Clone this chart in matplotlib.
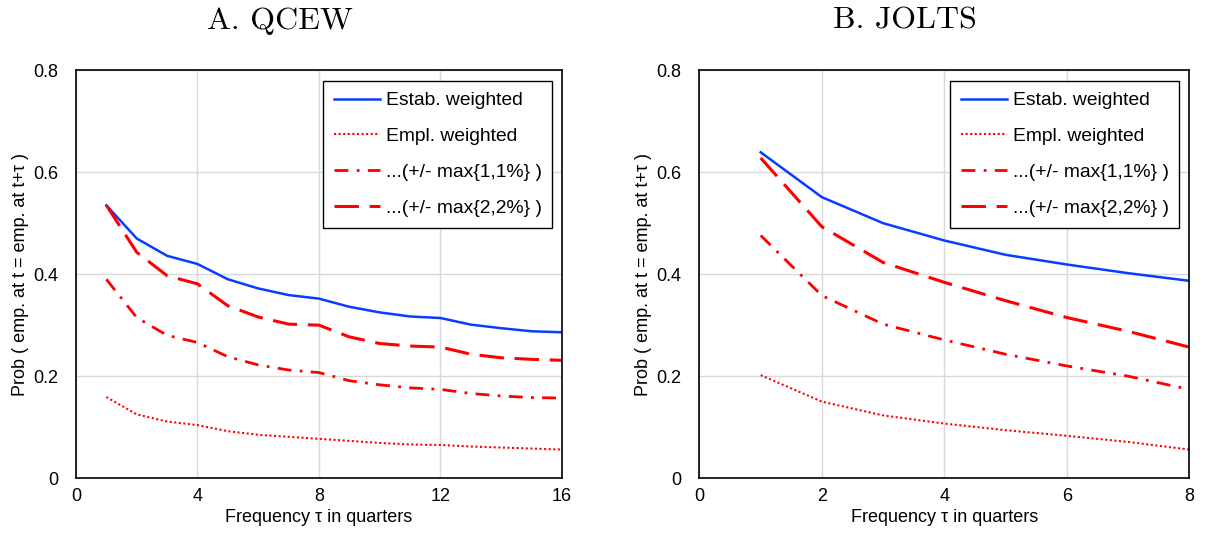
import matplotlib
matplotlib.use("Agg")
import matplotlib.pyplot as plt
import numpy as np

# --- data ---
q_tau = np.arange(1, 17)
q_estab = [0.535, 0.470, 0.436, 0.420, 0.390, 0.372, 0.359, 0.352,
           0.336, 0.325, 0.317, 0.314, 0.301, 0.294, 0.288, 0.286]
q_empl = [0.159, 0.125, 0.111, 0.104, 0.092, 0.085, 0.081, 0.077,
          0.073, 0.069, 0.066, 0.065, 0.062, 0.060, 0.058, 0.056]
q_tol1 = [0.390, 0.315, 0.280, 0.266, 0.238, 0.222, 0.212, 0.207,
          0.191, 0.183, 0.177, 0.174, 0.166, 0.161, 0.158, 0.157]
q_tol2 = [0.535, 0.443, 0.397, 0.381, 0.338, 0.316, 0.302, 0.300,
          0.277, 0.264, 0.259, 0.257, 0.243, 0.236, 0.233, 0.231]

j_tau = np.arange(1, 9)
j_estab = [0.639, 0.551, 0.500, 0.466, 0.438, 0.419, 0.402, 0.387]
j_empl = [0.202, 0.150, 0.123, 0.107, 0.094, 0.083, 0.071, 0.056]
j_tol1 = [0.476, 0.358, 0.302, 0.271, 0.243, 0.220, 0.200, 0.174]
j_tol2 = [0.628, 0.493, 0.423, 0.384, 0.348, 0.315, 0.288, 0.257]

labels = ["Estab. weighted", "Empl. weighted",
          "...(+/- max{1,1%} )", "...(+/- max{2,2%} )"]

plt.rcParams['font.family'] = ['Liberation Sans', 'DejaVu Sans']

fig = plt.figure(figsize=(12.06, 5.36), dpi=100)
ax1 = fig.add_axes([0.063, 0.108, 0.403, 0.761])
ax2 = fig.add_axes([0.580, 0.108, 0.406, 0.761])

BLUE = '#0a3cff'
RED = '#ff0000'


def draw(ax, tau, estab, empl, tol1, tol2, xmax, xstep, title):
    ax.plot(tau, estab, color=BLUE, lw=1.8, label=labels[0])
    ax.plot(tau, empl, color=RED, lw=1.5, dashes=(1, 1.2), label=labels[1])
    ax.plot(tau, tol1, color=RED, lw=2.0, dashes=(5, 3, 1, 3), label=labels[2])
    ax.plot(tau, tol2, color=RED, lw=2.2, dashes=(8, 3.5), label=labels[3])
    ax.set_xlim(0, xmax)
    ax.set_ylim(0, 0.8)
    ax.set_xticks(np.arange(0, xmax + 1, xstep))
    ax.set_yticks([0, 0.2, 0.4, 0.6, 0.8])
    ax.set_yticklabels(['0', '0.2', '0.4', '0.6', '0.8'])
    ax.tick_params(length=0, labelsize=13)
    ax.tick_params(axis='x', pad=7)
    ax.tick_params(axis='y', pad=13)
    ax.grid(True, color='#d9d9d9', lw=1)
    ax.set_axisbelow(True)
    for s in ax.spines.values():
        s.set_linewidth(1.2)
    ax.set_xlabel('Frequency τ in quarters', fontsize=13, labelpad=3)
    ax.set_ylabel('Prob ( emp. at t = emp. at t+τ )', fontsize=13, labelpad=3)
    ax.set_title(title, family='cmr10', fontsize=23, pad=30, x=0.42)
    leg = ax.legend(loc='upper right', fontsize=13.9, fancybox=False,
                    edgecolor='black', framealpha=1, handlelength=2.4,
                    labelspacing=0.95, borderpad=0.55, handletextpad=0.3,
                    borderaxespad=0, bbox_to_anchor=(0.98, 0.973))
    leg.get_frame().set_linewidth(1.0)


draw(ax1, q_tau, q_estab, q_empl, q_tol1, q_tol2, 16, 4, 'A. QCEW')
draw(ax2, j_tau, j_estab, j_empl, j_tol1, j_tol2, 8, 2, 'B. JOLTS')

fig.savefig('out.png', dpi=100)
